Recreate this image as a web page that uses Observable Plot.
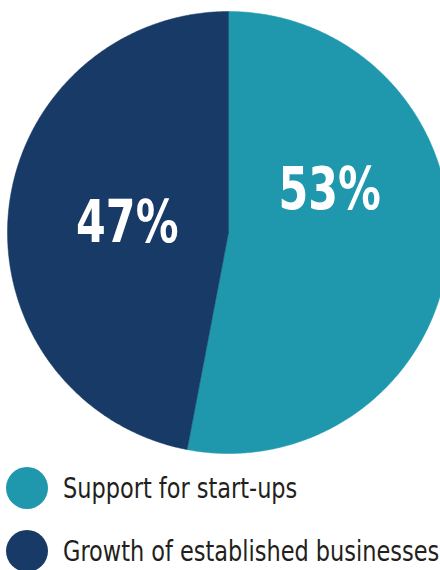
<!DOCTYPE html>
<html><head><meta charset="utf-8">
<script src="https://cdn.jsdelivr.net/npm/d3@7"></script>
<script src="https://cdn.jsdelivr.net/npm/@observablehq/plot@0.6"></script>
<style>
body{margin:0;background:#fff;width:440px;height:570px;overflow:hidden;font-family:"DejaVu Sans Condensed","DejaVu Sans",sans-serif;font-stretch:condensed;}
#chart svg{display:block;}
#chart svg text{font-stretch:condensed;}
.legend-row{display:flex;align-items:center;height:63px;}
.sw{width:42px;height:42px;border-radius:50%;margin-left:6px;flex:none;}
.lab{font-size:29px;color:#231f20;margin-left:15px;white-space:nowrap;transform:scaleX(0.86);transform-origin:left center;}
</style></head><body>
<div id="chart"></div>
<div id="legend"></div>
<script>
const categories = ["Support for start-ups", "Growth of established businesses"];
const shares = [53, 47];
const labels = ["53%", "47%"];
const colors = ["#1f98ad", "#173a66"];

const arcs = d3.pie().sort(null).value(d => d)(shares);
const slicePts = [];
arcs.forEach((a, i) => {
  const cat = categories[i];
  slicePts.push({cat, x: 0, y: 0});
  const n = Math.max(2, Math.ceil((a.endAngle - a.startAngle) / (Math.PI / 360)));
  for (let k = 0; k <= n; k++) {
    const t = a.startAngle + (a.endAngle - a.startAngle) * k / n;
    slicePts.push({cat, x: Math.sin(t), y: Math.cos(t)});
  }
  slicePts.push({cat, x: 0, y: 0});
});
const labelPts = arcs.map((a, i) => {
  const m = (a.startAngle + a.endAngle) / 2;
  return {cat: categories[i], label: labels[i], x: 0.46 * Math.sin(m), y: 0.46 * Math.cos(m)};
});

const W = 440, H = 456, cx = 228, cy = 232, R = 221;
const chart = Plot.plot({
  width: W, height: H,
  margin: 0,
  x: {domain: [-cx / R, (W - cx) / R], axis: null},
  y: {domain: [(cy - H) / R, cy / R], axis: null},
  color: {domain: categories, range: colors},
  marks: [
    Plot.line(slicePts, {x: "x", y: "y", z: "cat", fill: "cat", stroke: "cat", strokeWidth: 0.5, clip: true}),
    Plot.text(labelPts.filter((d, i) => i === 0), {x: "x", y: "y", text: "label", fill: "white", fontSize: 58, fontWeight: "bold", fontFamily: "DejaVu Sans", dy: -52, className: "pct"}),
    Plot.text(labelPts.filter((d, i) => i === 1), {x: "x", y: "y", text: "label", fill: "white", fontSize: 58, fontWeight: "bold", fontFamily: "DejaVu Sans", dy: 1, className: "pct"})
  ]
});
document.getElementById("chart").appendChild(chart);
chart.querySelectorAll(".pct text").forEach(el => {
  const len = el.getComputedTextLength();
  el.setAttribute("textLength", (len * 0.82).toFixed(1));
  el.setAttribute("lengthAdjust", "spacingAndGlyphs");
});

const leg = document.getElementById("legend");
categories.forEach((c, i) => {
  const row = document.createElement("div");
  row.className = "legend-row";
  const sw = document.createElement("div");
  sw.className = "sw";
  sw.style.background = colors[i];
  const lab = document.createElement("div");
  lab.className = "lab";
  lab.textContent = c;
  row.appendChild(sw); row.appendChild(lab);
  leg.appendChild(row);
});
</script>
</body></html>
